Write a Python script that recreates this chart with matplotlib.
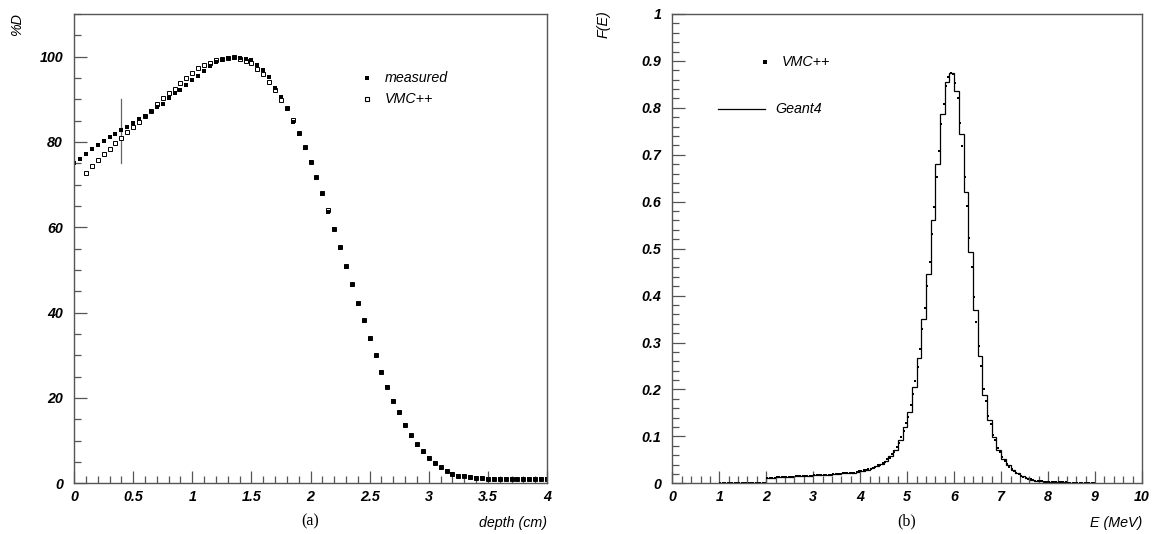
import numpy as np
import matplotlib
matplotlib.use("Agg")
import matplotlib.pyplot as plt
from matplotlib.ticker import MultipleLocator, FormatStrFormatter

# ---- panel (a): depth dose ----
depth_measured = np.round(np.arange(0, 4.0001, 0.05), 2)
dose_measured = [
    75.0, 76.1, 77.3, 78.4, 79.2, 80.2, 81.2, 81.9, 82.9, 83.6,
    84.4, 85.4, 86.2, 87.3, 88.1, 88.9, 90.2, 91.4, 92.3, 93.4,
    94.5, 95.5, 96.6, 97.7, 98.7, 99.2, 99.6, 99.8, 99.8, 99.5,
    99.2, 98.0, 96.9, 95.3, 92.6, 90.6, 87.7, 84.8, 81.9, 78.7,
    75.2, 71.6, 67.8, 63.7, 59.5, 55.2, 50.6, 46.5, 42.0, 38.0,
    33.9, 29.9, 26.2, 22.5, 19.3, 16.4, 13.7, 11.2, 9.0, 7.3,
    5.9, 4.7, 3.7, 2.8, 2.2, 1.8, 1.6, 1.4, 1.3, 1.2,
    1.1, 1.1, 1.1, 1.1, 1.1, 1.1, 1.0, 1.0, 1.0, 1.0, 1.0,
]
depth_vmc = np.round(np.arange(0.1, 4.0001, 0.05), 2)
dose_vmc = [
    72.7, 74.3, 75.8, 77.2, 78.4, 79.7, 80.9, 82.3, 83.6, 84.8,
    86.2, 87.3, 88.9, 90.2, 91.4, 92.5, 93.8, 95.0, 96.2, 97.3,
    98.0, 98.6, 99.2, 99.5, 99.8, 99.9, 99.5, 99.0, 98.4, 97.1,
    95.9, 94.1, 92.2, 89.8, 87.9, 85.1, 82.0, 78.9, 75.3, 71.8,
    68.0, 64.1, 59.6, 55.4, 51.0, 46.8, 42.2, 38.3, 34.0, 30.0,
    26.2, 22.5, 19.3, 16.6, 13.7, 11.3, 9.2, 7.5, 6.0, 4.8,
    3.8, 2.9, 2.3, 1.8, 1.6, 1.4, 1.3, 1.2, 1.1, 1.1,
    1.1, 1.1, 1.1, 1.1, 1.0, 1.0, 1.0, 1.0, 1.0,
]

# ---- panel (b): energy spectrum ----
geant4_edges = np.round(np.arange(1.0, 9.0001, 0.1), 2)
geant4_values = [
    0.0005, 0.0005, 0.0005, 0.0005, 0.0005, 0.0005, 0.0005, 0.0005, 0.0005, 0.0005,
    0.012, 0.012, 0.013, 0.013, 0.014, 0.014, 0.015, 0.015, 0.016, 0.016,
    0.017, 0.017, 0.018, 0.018, 0.019, 0.020, 0.021, 0.022, 0.023, 0.025,
    0.027, 0.029, 0.032, 0.036, 0.041, 0.048, 0.058, 0.072, 0.092, 0.120,
    0.153, 0.205, 0.267, 0.351, 0.446, 0.560, 0.680, 0.787, 0.856, 0.874,
    0.836, 0.744, 0.621, 0.492, 0.370, 0.271, 0.188, 0.135, 0.098, 0.071,
    0.052, 0.038, 0.028, 0.021, 0.015, 0.011, 0.008, 0.006, 0.004, 0.003,
    0.003, 0.002, 0.002, 0.002, 0.001, 0.001, 0.001, 0.001, 0.001, 0.001,
]
energy_vmc = np.round(np.arange(1.025, 9.0, 0.05), 3)
spectrum_vmc = [
    0.0005, 0.0005, 0.0005, 0.0005, 0.0005, 0.0005, 0.0005, 0.0005, 0.0005, 0.0005,
    0.0005, 0.0005, 0.0005, 0.0005, 0.0005, 0.0005, 0.0005, 0.0005, 0.0005, 0.0005,
    0.012, 0.012, 0.012, 0.012, 0.013, 0.013, 0.013, 0.013, 0.014, 0.014,
    0.014, 0.014, 0.015, 0.015, 0.015, 0.015, 0.016, 0.016, 0.016, 0.016,
    0.017, 0.017, 0.017, 0.017, 0.018, 0.018, 0.018, 0.018, 0.019, 0.019,
    0.020, 0.020, 0.021, 0.021, 0.022, 0.022, 0.023, 0.023, 0.024, 0.026,
    0.026, 0.028, 0.028, 0.030, 0.031, 0.033, 0.034, 0.038, 0.039, 0.043,
    0.045, 0.051, 0.054, 0.062, 0.067, 0.077, 0.085, 0.099, 0.111, 0.129,
    0.141, 0.166, 0.191, 0.219, 0.248, 0.286, 0.329, 0.373, 0.421, 0.472,
    0.532, 0.589, 0.652, 0.708, 0.766, 0.808, 0.847, 0.866, 0.875, 0.872,
    0.852, 0.820, 0.768, 0.718, 0.652, 0.590, 0.523, 0.461, 0.398, 0.343,
    0.292, 0.250, 0.200, 0.176, 0.144, 0.126, 0.104, 0.092, 0.076, 0.066,
    0.056, 0.048, 0.041, 0.035, 0.030, 0.026, 0.023, 0.019, 0.016, 0.014,
    0.012, 0.010, 0.009, 0.007, 0.006, 0.005, 0.004, 0.004, 0.003, 0.003,
    0.003, 0.003, 0.002, 0.002, 0.002, 0.002, 0.002, 0.002, 0.001, 0.001,
    0.001, 0.001, 0.001, 0.001, 0.001, 0.001, 0.001, 0.001, 0.001, 0.001,
]

SANS = "Liberation Sans"
AXC = "#555555"
FS = 10.3

fig = plt.figure(figsize=(11.57, 5.34), dpi=100)
ax1 = fig.add_axes([0.0640, 0.0949, 0.4088, 0.8789])
ax2 = fig.add_axes([0.5811, 0.0949, 0.4060, 0.8789])


def style_axis(ax, xmaj, xmin, ymaj, ymin):
    for s in ax.spines.values():
        s.set_color(AXC)
        s.set_linewidth(1.0)
    ax.xaxis.set_major_locator(MultipleLocator(xmaj))
    ax.xaxis.set_minor_locator(MultipleLocator(xmin))
    ax.yaxis.set_major_locator(MultipleLocator(ymaj))
    ax.yaxis.set_minor_locator(MultipleLocator(ymin))
    ax.xaxis.set_major_formatter(FormatStrFormatter("%g"))
    ax.yaxis.set_major_formatter(FormatStrFormatter("%g"))
    ax.tick_params(which="both", direction="in", top=False, right=False,
                   color=AXC, width=0.9)
    ax.tick_params(which="major", length=9)
    ax.tick_params(which="minor", length=4.7)
    ax.tick_params(axis="x", pad=5)
    ax.tick_params(axis="y", pad=8)
    for lab in ax.get_xticklabels() + ax.get_yticklabels():
        lab.set_fontfamily(SANS)
        lab.set_fontstyle("italic")
        lab.set_fontweight("bold")
        lab.set_fontsize(FS)


def label(x, y, s, **kw):
    fig.text(x, y, s, family=SANS, style="italic", fontsize=FS, **kw)


# panel (a)
ax1.plot([0.4, 0.4], [75, 90], color="#666666", lw=0.9)
ax1.plot(depth_vmc, dose_vmc, "s", mfc="white", mec="black", ms=3.0, mew=0.7)
ax1.plot(depth_measured, dose_measured, "s", color="black", ms=3.0, mew=0)
ax1.set_xlim(0, 4)
ax1.set_ylim(0, 110)
style_axis(ax1, 0.5, 0.1, 20, 5)

ax1.plot([2.48], [95.0], "s", color="black", ms=3.3, mew=0)
ax1.plot([2.48], [90.1], "s", mfc="white", mec="black", ms=3.3, mew=0.8)
ax1.text(2.63, 95.0, "measured", family=SANS, style="italic", fontsize=FS, va="center")
ax1.text(2.63, 90.1, "VMC++", family=SANS, style="italic", fontsize=FS, va="center")

label(0.0150, 0.955, "%D", rotation=90, ha="center", va="center")
label(0.4728, 0.021, "depth (cm)", ha="right", va="center")
fig.text(0.268, 0.024, "(a)", family="Liberation Serif", fontsize=11.5,
         ha="center", va="center")

# panel (b)
ax2.stairs(geant4_values, geant4_edges, color="black", lw=0.9, baseline=None)
ax2.plot(energy_vmc, spectrum_vmc, "s", color="black", ms=2.0, mew=0)
ax2.set_xlim(0, 10)
ax2.set_ylim(0, 1)
style_axis(ax2, 1, 0.2, 0.1, 0.02)

ax2.plot([1.97], [0.897], "s", color="black", ms=3.2, mew=0)
ax2.plot([0.97, 1.98], [0.797, 0.797], color="black", lw=0.9)
ax2.text(2.34, 0.897, "VMC++", family=SANS, style="italic", fontsize=FS, va="center")
ax2.text(2.19, 0.797, "Geant4", family=SANS, style="italic", fontsize=FS, va="center")

label(0.522, 0.955, "F(E)", rotation=90, ha="center", va="center")
label(0.987, 0.021, "E (MeV)", ha="right", va="center")
fig.text(0.784, 0.024, "(b)", family="Liberation Serif", fontsize=11.5,
         ha="center", va="center")

fig.savefig("out.png", dpi=100)
